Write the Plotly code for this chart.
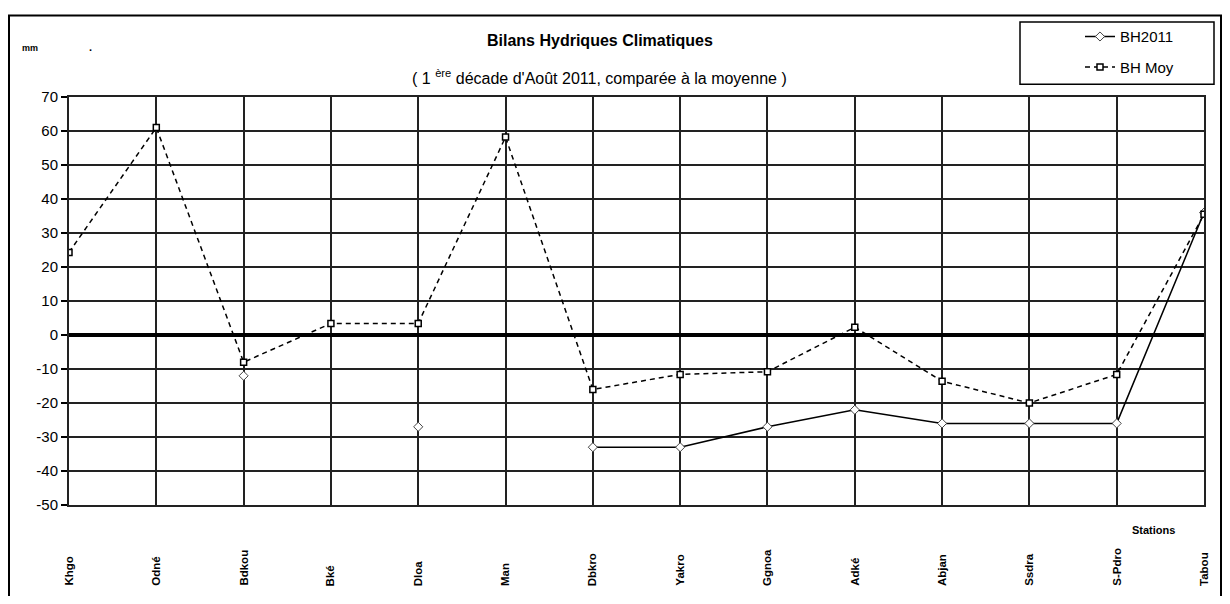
import plotly.graph_objects as go

stations = ["Khgo", "Odné", "Bdkou", "Bké", "Dloa", "Man", "Dbkro", "Yakro",
            "Ggnoa", "Adké", "Abjan", "Ssdra", "S-Pdro", "Tabou"]
bh2011 = [None, None, -12, None, -27, None, -33, -33, -27, -22, -26, -26, -26, 36]
bh_moy = [24.3, 61, -8, 3.4, 3.4, 58.2, -16, -11.6, -10.8, 2.3, -13.6, -20, -11.6, 35.5]
y_ticks = [70, 60, 50, 40, 30, 20, 10, 0, -10, -20, -30, -40, -50]

FONT = "Liberation Sans"
OFF = 8  # page body margin
W, H = 1230 - 2 * OFF, 604 - 2 * OFF
PL, PT, PR, PB = 69, 92, 1204, 505  # plot area in page pixels
PW, PH = PR - PL, PB - PT
L, T = PL - OFF, PT - OFF
R, B = W - L - PW, H - T - PH


def px(x):
    return (x - PL) / PW


def py(y):
    return (PB - y) / PH


fig = go.Figure()
fig.add_trace(go.Scatter(
    x=stations, y=bh2011, name="BH2011", mode="lines+markers",
    connectgaps=False, legend="legend",
    line=dict(color="black", width=1.5),
    marker=dict(symbol="diamond", size=7, color="white", line=dict(color="#444", width=1)),
))
fig.add_trace(go.Scatter(
    x=stations, y=bh_moy, name="BH Moy", mode="lines+markers",
    connectgaps=False, legend="legend2",
    line=dict(color="black", width=1.5, dash="5px,4px"),
    marker=dict(symbol="square", size=6, color="white", line=dict(color="black", width=1.5)),
))

annotations = [
    dict(text="<b>Bilans Hydriques Climatiques</b>", xref="paper", yref="paper",
         x=px(600), y=py(35), xanchor="center", yanchor="middle", showarrow=False,
         font=dict(family=FONT, size=16, color="black")),
    dict(text="( 1 <sup>ère</sup> décade d'Août 2011, comparée à la moyenne )", xref="paper", yref="paper",
         x=px(599), y=py(72), xanchor="center", yanchor="middle", showarrow=False,
         font=dict(family=FONT, size=16, color="black")),
    dict(text="<b>mm</b>", xref="paper", yref="paper", x=px(20), y=py(42),
         xanchor="left", yanchor="middle", showarrow=False,
         font=dict(family=FONT, size=9, color="black")),
    dict(text="<b>.</b>", xref="paper", yref="paper", x=px(87), y=py(41),
         xanchor="left", yanchor="middle", showarrow=False,
         font=dict(family=FONT, size=11, color="black")),
    dict(text="<b>Stations</b>", xref="paper", yref="paper", x=px(1153), y=py(530),
         xanchor="center", yanchor="middle", showarrow=False,
         font=dict(family=FONT, size=11, color="black")),
]
for s in stations:
    annotations.append(dict(
        text="<b>%s</b>" % s, x=s, xref="x", yref="paper", y=py(589),
        xanchor="center", yanchor="bottom", textangle=-90, showarrow=False,
        font=dict(family=FONT, size=11.5, color="black")))

shapes = [
    dict(type="rect", xref="paper", yref="paper", x0=px(9), x1=px(1221), y0=py(9.5), y1=py(640),
         line=dict(color="black", width=2), fillcolor="rgba(0,0,0,0)", layer="below"),
    dict(type="rect", xref="paper", yref="paper", x0=px(1020), x1=px(1214), y0=py(16), y1=py(79),
         line=dict(color="black", width=1.5), fillcolor="white", layer="below"),
]

fig.update_layout(
    width=W, height=H,
    margin=dict(l=L, r=R, t=T, b=B, pad=0),
    paper_bgcolor="white", plot_bgcolor="white",
    font=dict(family=FONT, color="black"),
    showlegend=True,
    legend=dict(x=px(1080), y=py(31), xanchor="left", yanchor="middle",
                bgcolor="rgba(0,0,0,0)", borderwidth=0,
                font=dict(family=FONT, size=15, color="black")),
    legend2=dict(x=px(1080), y=py(62), xanchor="left", yanchor="middle",
                 bgcolor="rgba(0,0,0,0)", borderwidth=0,
                 font=dict(family=FONT, size=15, color="black")),
    annotations=annotations,
    shapes=shapes,
    xaxis=dict(type="category", categoryorder="array", categoryarray=stations,
               range=[0, len(stations) - 1], showticklabels=False,
               showgrid=True, gridcolor="#222", gridwidth=2,
               showline=True, mirror=True, linecolor="#222", linewidth=2,
               ticks="", zeroline=False, fixedrange=True),
    yaxis=dict(range=[-50, 70], tickvals=y_ticks, ticktext=[str(v) for v in y_ticks],
               showgrid=True, gridcolor="#222", gridwidth=2,
               showline=True, mirror=True, linecolor="#222", linewidth=2,
               zeroline=True, zerolinecolor="black", zerolinewidth=3.5,
               ticks="outside", ticklen=6, tickcolor="black", tickwidth=1.5,
               tickfont=dict(family=FONT, size=15, color="black"), fixedrange=True),
)

fig.write_html("out.html")
